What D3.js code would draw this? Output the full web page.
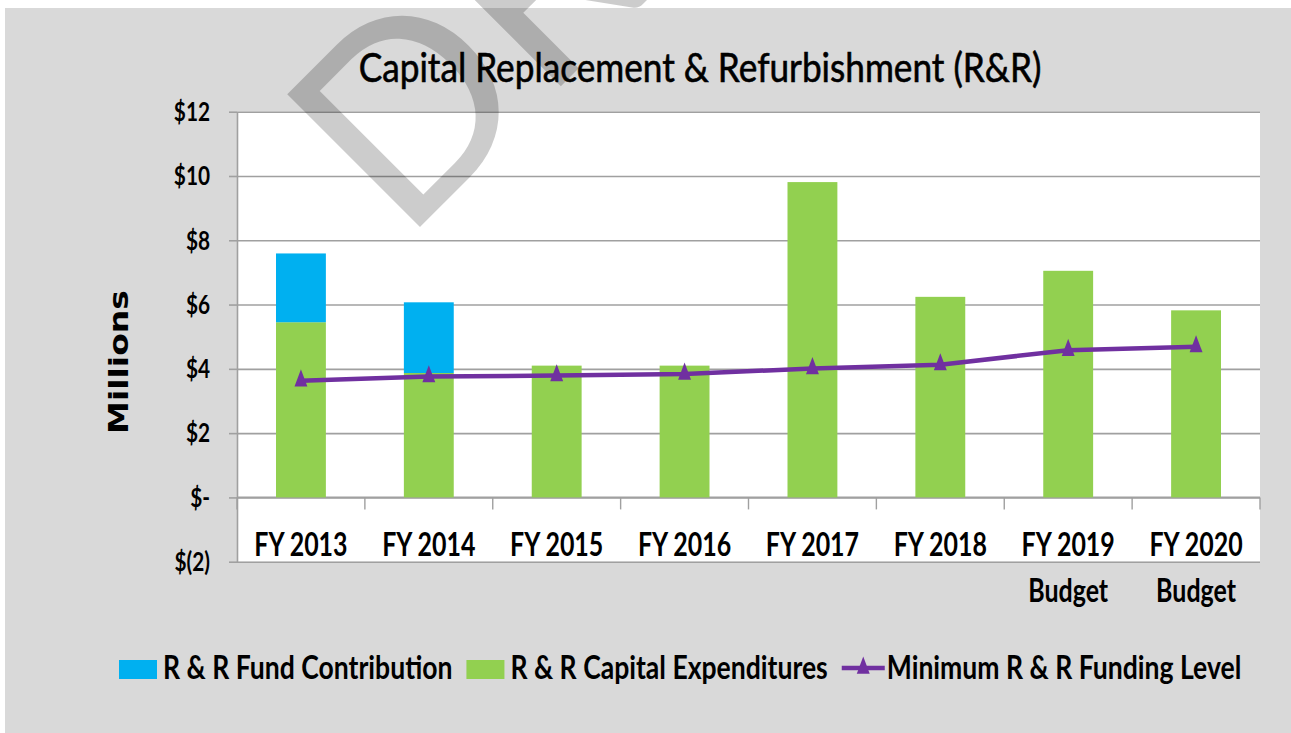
<!DOCTYPE html>
<html>
<head>
<meta charset="utf-8">
<script src="https://cdn.jsdelivr.net/npm/d3@7"></script>
<style>
  body { margin: 0; background: #fff; }
  text { font-family: Lato, "Open Sans", sans-serif; fill: #000; }
</style>
</head>
<body>
<script>
// ---- chart data ($ millions) ----
var years = ["FY 2013", "FY 2014", "FY 2015", "FY 2016", "FY 2017", "FY 2018", "FY 2019", "FY 2020"];
var yearNotes = ["", "", "", "", "", "", "Budget", "Budget"];
var capitalExpenditures = [5.45, 3.87, 4.10, 4.10, 9.81, 6.24, 7.05, 5.82];
var fundContribution = [2.14, 2.20, 0, 0, 0, 0, 0, 0];
var minFundingLevel = [3.63, 3.76, 3.79, 3.84, 4.01, 4.13, 4.58, 4.69];
var yTicks = [-2, 0, 2, 4, 6, 8, 10, 12];
var yTickLabels = ["$(2)", "$-", "$2", "$4", "$6", "$8", "$10", "$12"];
var seriesNames = ["R & R Fund Contribution", "R & R Capital Expenditures", "Minimum R & R Funding Level"];

// ---- look ----
var W = 1291, H = 733;
var sx = 0.78;              // the source picture is stretched vertically, so text is squeezed in x
var colFund = "#00b0f0", colCap = "#92d050", colMin = "#7030a0", colGrid = "#a0a0a0";
var plotL = 237, plotR = 1260, plotT = 111.7, plotB = 561.7;

var svg = d3.select("body").append("svg")
  .attr("width", W).attr("height", H)
  .style("display", "block");

svg.append("rect").attr("width", W).attr("height", H).attr("fill", "#fff");
svg.append("rect").attr("x", 5).attr("y", 8).attr("width", W - 5).attr("height", H - 8).attr("fill", "#d9d9d9");

function place(sel, px, py, k) {
  return sel.attr("transform", "translate(" + px + "," + py + ") scale(" + (k || sx) + ",1)");
}

// ---- scales ----
var x = d3.scaleBand().domain(years).range([plotL, plotR]).paddingInner(0.61).paddingOuter(0.305);
var y = d3.scaleLinear().domain([-2, 12]).range([plotB, plotT]);
var cx = function(d) { return x(d) + x.bandwidth() / 2; };

// plot area
svg.append("rect").attr("x", plotL).attr("y", plotT).attr("width", plotR - plotL).attr("height", plotB - plotT).attr("fill", "#fff");

// gridlines
svg.append("g")
  .attr("transform", "translate(" + plotL + ",0)")
  .call(d3.axisLeft(y).tickValues(yTicks).tickSize(-(plotR - plotL)).tickFormat(""))
  .call(function(g) {
    g.select(".domain").remove();
    g.selectAll("line").attr("stroke", colGrid).attr("stroke-width", 1.6);
  });

// y axis with labels
var yAxis = svg.append("g")
  .attr("transform", "translate(" + plotL + ",0)")
  .call(d3.axisLeft(y).tickValues(yTicks).tickSize(8).tickSizeOuter(0)
    .tickFormat(function(d, i) { return yTickLabels[i]; }));
yAxis.select(".domain").attr("stroke", colGrid).attr("stroke-width", 1.6);
yAxis.selectAll(".tick line").attr("stroke", colGrid).attr("stroke-width", 1.6);
yAxis.selectAll(".tick text")
  .attr("x", null).attr("dy", "0.34em")
  .attr("transform", "translate(-27,0) scale(0.8,1)")
  .style("font-family", "Lato, sans-serif")
  .style("font-size", "26px").style("font-weight", "bold").attr("fill", "#000");

// zero line + category separators
var y0 = y(0);
svg.append("line").attr("x1", plotL).attr("x2", plotR).attr("y1", y0).attr("y2", y0)
  .attr("stroke", colGrid).attr("stroke-width", 1.6);
svg.append("g").selectAll("line")
  .data(d3.range(years.length + 1))
  .join("line")
  .attr("x1", function(i) { return plotL + i * x.step(); })
  .attr("x2", function(i) { return plotL + i * x.step(); })
  .attr("y1", y0).attr("y2", y0 + 12)
  .attr("stroke", colGrid).attr("stroke-width", 1.4);

// category labels
var cat = svg.append("g").selectAll("text")
  .data(years)
  .join("text")
  .attr("text-anchor", "middle")
  .style("font-size", "32px").style("font-weight", "bold")
  .each(function(d) { place(d3.select(this), cx(d), 556); });
cat.append("tspan").attr("x", 0).text(function(d) { return d; });
cat.append("tspan").attr("x", 0).attr("dy", 46).text(function(d, i) { return yearNotes[i]; });

// ---- stacked bars ----
var rows = years.map(function(d, i) {
  return { year: d, cap: capitalExpenditures[i], fund: fundContribution[i] };
});
var stack = d3.stack().keys(["cap", "fund"])(rows);
var barColors = { cap: colCap, fund: colFund };

svg.append("g").selectAll("g")
  .data(stack)
  .join("g")
  .attr("fill", function(s) { return barColors[s.key]; })
  .selectAll("rect")
  .data(function(s) { return s.filter(function(p) { return p[1] > p[0]; }); })
  .join("rect")
  .attr("x", function(p) { return x(p.data.year); })
  .attr("width", x.bandwidth())
  .attr("y", function(p) { return y(p[1]); })
  .attr("height", function(p) { return y(p[0]) - y(p[1]); });

// ---- minimum funding line ----
var tri = d3.symbol(d3.symbolTriangle, 100);
svg.append("path")
  .datum(minFundingLevel)
  .attr("fill", "none").attr("stroke", colMin).attr("stroke-width", 4.5).attr("stroke-linejoin", "round")
  .attr("d", d3.line().x(function(d, i) { return cx(years[i]); }).y(function(d) { return y(d); }));

svg.append("g").selectAll("path")
  .data(minFundingLevel)
  .join("path")
  .attr("d", tri)
  .attr("fill", colMin)
  .attr("transform", function(d, i) { return "translate(" + cx(years[i]) + "," + y(d) + ") scale(0.85,1.3)"; });

// ---- titles ----
place(svg.append("text"), 700, 82, 0.88)
  .attr("text-anchor", "middle")
  .style("font-size", "40px")
  .style("stroke", "#000").style("stroke-width", 0.6)
  .text("Capital Replacement & Refurbishment (R&R)");

svg.append("text")
  .attr("transform", "translate(128,362) scale(0.78,1) rotate(-90)")
  .attr("text-anchor", "middle")
  .style("font-family", "'DejaVu Sans', Verdana, sans-serif")
  .style("font-size", "33px").style("font-weight", "bold")
  .text("Millions");

// ---- legend ----
var legend = svg.append("g");
var lx = 119, ly = 679, lk = 0.83;
[{ name: seriesNames[0], color: colFund, kind: "box" },
 { name: seriesNames[1], color: colCap, kind: "box" },
 { name: seriesNames[2], color: colMin, kind: "line" }].forEach(function(it) {
  if (it.kind === "box") {
    legend.append("rect").attr("x", lx).attr("y", 660).attr("width", 38).attr("height", 19).attr("fill", it.color);
    lx += 44;
  } else {
    legend.append("line").attr("x1", lx).attr("x2", lx + 43).attr("y1", 668).attr("y2", 668)
      .attr("stroke", it.color).attr("stroke-width", 4.5);
    legend.append("path").attr("d", tri).attr("fill", it.color)
      .attr("transform", "translate(" + (lx + 21.5) + ",668) scale(0.85,1.3)");
    lx += 45;
  }
  var t = place(legend.append("text"), lx, ly, lk)
    .style("font-size", "32px").style("font-weight", "bold")
    .text(it.name);
  lx += t.node().getComputedTextLength() * lk + 14;
});

// ---- watermark ----
svg.append("text")
  .attr("transform", "translate(403,244) rotate(-45)")
  .style("font-size", "262px").style("font-weight", "normal")
  .style("fill", "rgba(0,0,0,0.2)")
  .text("DRAFT");
</script>
</body>
</html>
